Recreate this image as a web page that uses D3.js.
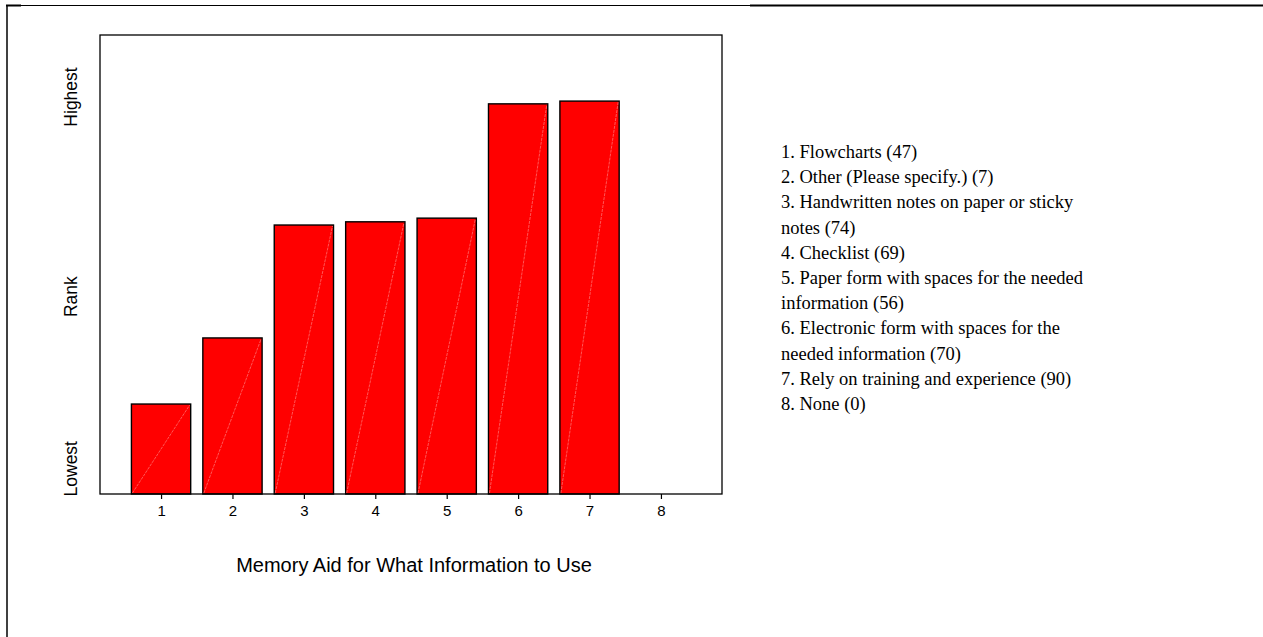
<!DOCTYPE html>
<html><head><meta charset="utf-8">
<script src="https://cdn.jsdelivr.net/npm/d3@7"></script>
<style>html,body{margin:0;padding:0;background:#fff;}svg{display:block;}</style>
</head><body>
<script>
const categories = [1, 2, 3, 4, 5, 6, 7, 8];
const values = [19.6, 34.0, 58.6, 59.3, 60.1, 85.0, 85.6, 0];
const yLabels = [{t: "Lowest", v: 5.5}, {t: "Rank", v: 43}, {t: "Highest", v: 86.5}];
const xTitle = "Memory Aid for What Information to Use";
const legendLines = [
  "1. Flowcharts (47)",
  "2. Other (Please specify.) (7)",
  "3. Handwritten notes on paper or sticky",
  "notes (74)",
  "4. Checklist (69)",
  "5. Paper form with spaces for the needed",
  "information (56)",
  "6. Electronic form with spaces for the",
  "needed information (70)",
  "7. Rely on training and experience (90)",
  "8. None (0)"
];

const W = 1263, H = 637;
const svg = d3.select("body").append("svg").attr("width", W).attr("height", H);

// outer frame
svg.append("line").attr("x1", 6).attr("x2", 752).attr("y1", 5.5).attr("y2", 5.5).attr("stroke", "#000").attr("stroke-width", 1.2);
svg.append("line").attr("x1", 750).attr("x2", W).attr("y1", 5.5).attr("y2", 5.5).attr("stroke", "#000").attr("stroke-width", 2.2);
svg.append("line").attr("x1", 7).attr("x2", 7).attr("y1", 5).attr("y2", H).attr("stroke", "#000").attr("stroke-width", 1.5);
svg.append("line").attr("x1", 6).attr("x2", 21).attr("y1", 5.5).attr("y2", 5.5).attr("stroke", "#000").attr("stroke-width", 2);

const L = 100, R = 722, T = 35, B = 494;
const x = d3.scaleLinear().domain([0.145, 8.855]).range([L, R]);
const y = d3.scaleLinear().domain([0, 100]).range([B, T]);
const bw = (x(1) - x(0)) * 0.83;

const g = svg.append("g");
const data = categories.map((c, i) => ({c, v: values[i]})).filter(d => d.v > 0);

g.selectAll("rect.bar").data(data).join("rect").attr("class", "bar")
  .attr("x", d => x(d.c) - bw / 2).attr("width", bw)
  .attr("y", d => y(d.v)).attr("height", d => y(0) - y(d.v))
  .attr("fill", "#ff0000").attr("stroke", "#000").attr("stroke-width", 1.4);

g.selectAll("line.seam").data(data).join("line").attr("class", "seam")
  .attr("x1", d => x(d.c) - bw / 2 + 1).attr("y1", y(0) - 1)
  .attr("x2", d => x(d.c) + bw / 2 - 1).attr("y2", d => y(d.v) + 1)
  .attr("stroke", "#ff9090").attr("stroke-width", 0.6).attr("stroke-dasharray", "3,1");

// plot frame
svg.append("rect").attr("x", L).attr("y", T).attr("width", R - L).attr("height", B - T)
  .attr("fill", "none").attr("stroke", "#000").attr("stroke-width", 1.3);

// x axis ticks
const xAxis = d3.axisBottom(x).tickValues(categories).tickSize(5).tickPadding(6).tickFormat(d3.format("d"));
const ax = svg.append("g").attr("transform", `translate(0,${B})`).call(xAxis);
ax.select(".domain").remove();
ax.selectAll("line").attr("stroke", "#000").attr("stroke-width", 1.2);
ax.selectAll("text").attr("font-family", "Liberation Sans, Arial, sans-serif").attr("font-size", 15).attr("fill", "#000");

// x title
svg.append("text").attr("x", (L + R) / 2 + 3).attr("y", 572).attr("text-anchor", "middle")
  .attr("font-family", "Liberation Sans, Arial, sans-serif").attr("font-size", 20).attr("fill", "#000").text(xTitle);

// y labels
svg.selectAll("text.yl").data(yLabels).join("text").attr("class", "yl")
  .attr("transform", d => `translate(77,${y(d.v)}) rotate(-90)`)
  .attr("text-anchor", "middle")
  .attr("font-family", "Liberation Sans, Arial, sans-serif").attr("font-size", 17.5).attr("fill", "#000")
  .text(d => d.t);

// legend
svg.selectAll("text.lg").data(legendLines).join("text").attr("class", "lg")
  .attr("x", 781).attr("y", (d, i) => 158 + i * 25.2)
  .attr("font-family", "Liberation Serif, Times New Roman, serif").attr("font-size", 18.5).attr("fill", "#000")
  .text(d => d);
</script>
</body></html>
